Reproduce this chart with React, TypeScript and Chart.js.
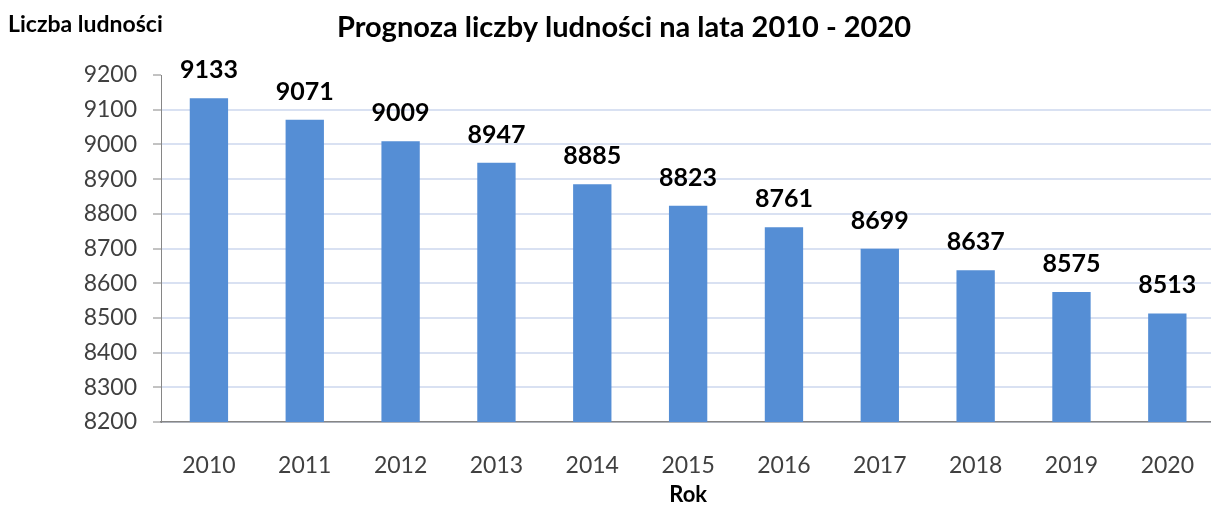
import { useEffect, useRef } from "react";
import { Chart, registerables } from "chart.js";

Chart.register(...registerables);

const years = ["2010", "2011", "2012", "2013", "2014", "2015", "2016", "2017", "2018", "2019", "2020"];
const population = [9133, 9071, 9009, 8947, 8885, 8823, 8761, 8699, 8637, 8575, 8513];
const yMin = 8200;
const yMax = 9200;
const yStep = 100;
const chartTitle = "Prognoza liczby ludności na lata 2010 - 2020";
const yAxisTitle = "Liczba ludności";
const xAxisTitle = "Rok";

const FONT = "Lato, 'Open Sans', sans-serif";

const labelsPlugin = {
  id: "valueLabels",
  afterDatasetsDraw(chart: any) {
    const ctx = chart.ctx;
    const meta = chart.getDatasetMeta(0);
    ctx.save();
    ctx.font = `bold 25px ${FONT}`;
    ctx.fillStyle = "#000000";
    ctx.textAlign = "center";
    ctx.textBaseline = "alphabetic";
    meta.data.forEach((el: any, i: number) => {
      ctx.fillText(String(population[i]), el.x, el.y - 20);
    });
    ctx.restore();
  },
};

const titlesPlugin = {
  id: "titles",
  afterDraw(chart: any) {
    const ctx = chart.ctx;
    ctx.save();
    ctx.fillStyle = "#000000";
    ctx.textBaseline = "middle";
    ctx.textAlign = "center";
    ctx.font = `bold 29px ${FONT}`;
    ctx.fillText(chartTitle, 624, 28);
    ctx.textAlign = "left";
    ctx.font = `bold 23px ${FONT}`;
    ctx.fillText(yAxisTitle, 8, 25);
    ctx.restore();
  },
};

export default function App() {
  const ref = useRef<HTMLCanvasElement>(null);

  useEffect(() => {
    if (!ref.current) return;
    const chart = new Chart(ref.current, {
      type: "bar",
      data: {
        labels: years,
        datasets: [
          {
            data: population,
            backgroundColor: "#558ED5",
            barPercentage: 0.4,
            categoryPercentage: 1,
          },
        ],
      },
      options: {
        responsive: false,
        animation: false,
        layout: { padding: { top: 75, right: 0, left: 0, bottom: 0 } },
        plugins: {
          legend: { display: false },
          title: { display: false },
          tooltip: { enabled: false },
        },
        scales: {
          x: {
            grid: { display: false, drawTicks: false, tickLength: 0 },
            border: { color: "#868686", width: 1.5 },
            ticks: {
              color: "#404040",
              font: { family: FONT, size: 23 },
              padding: 30,
              maxRotation: 0,
            },
            title: {
              display: true,
              text: xAxisTitle,
              color: "#000000",
              font: { family: FONT, size: 22, weight: "bold" },
              padding: { top: 0, bottom: -2 },
            },
            afterFit(scale: any) {
              scale.height = 84;
            },
          },
          y: {
            min: yMin,
            max: yMax,
            ticks: {
              stepSize: yStep,
              color: "#404040",
              font: { family: FONT, size: 23 },
              padding: 16,
              callback: (v: any) => String(v),
            },
            grid: {
              color: (c: any) => (c.tick && c.tick.value === yMax ? "rgba(0,0,0,0)" : "#D9E1F2"),
              lineWidth: 2,
              tickLength: 8,
              tickColor: "#868686",
              tickWidth: 1,
            },
            border: { color: "#868686", width: 1 },
            afterFit(scale: any) {
              scale.width = 161;
            },
          },
        },
      },
      plugins: [labelsPlugin, titlesPlugin],
    });
    return () => chart.destroy();
  }, []);

  return (
    <div style={{ position: "fixed", left: 0, top: 0, width: 1211, height: 506, overflow: "hidden", background: "#fff" }}>
      <canvas ref={ref} width={1224} height={506} style={{ display: "block" }} />
    </div>
  );
}
